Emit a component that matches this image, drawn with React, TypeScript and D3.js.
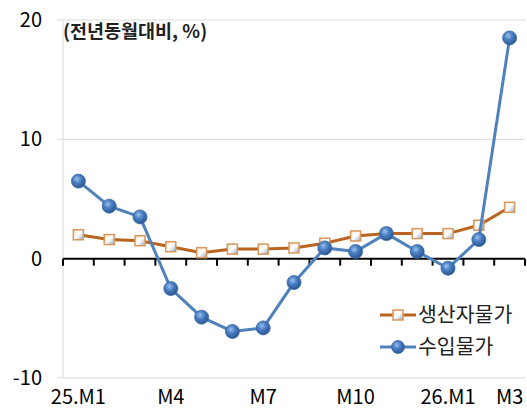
import React, { useEffect, useRef } from 'react';
import * as d3 from 'd3';

// months on the category axis, only some get a label
const months = ['25.M1', '25.M2', '25.M3', '25.M4', '25.M5', '25.M6', '25.M7', '25.M8', '25.M9', '25.M10', '25.M11', '25.M12', '26.M1', '26.M2', '26.M3'];
const tickLabels = ['25.M1', '', '', 'M4', '', '', 'M7', '', '', 'M10', '', '', '26.M1', '', 'M3'];

// year-on-year change, %
const producerPrices = [2.0, 1.6, 1.5, 1.0, 0.5, 0.8, 0.8, 0.9, 1.3, 1.9, 2.1, 2.1, 2.1, 2.8, 4.3];
const importPrices = [6.5, 4.4, 3.5, -2.5, -4.9, -6.1, -5.8, -2.0, 0.9, 0.6, 2.1, 0.6, -0.8, 1.6, 18.5];

const yTicks = [-10, 0, 10, 20];
const seriesNames = ['생산자물가', '수입물가'];

const FONT = '"Noto Sans CJK KR", "Noto Sans", sans-serif';
const ORANGE = '#b9641f';
const BLUE = '#4f81bd';

export default function App() {
  const ref = useRef<SVGSVGElement>(null);

  useEffect(() => {
    document.body.style.margin = '0';
    drawChart();
  }, []);

  function drawChart() {
    const svg = d3.select(ref.current);
    svg.selectAll('*').remove();

    const left = 63, right = 525, top = 20, bottom = 378;

    const x = d3.scaleBand().domain(months).range([left, right]);
    const cx = (d: string) => (x(d) as number) + x.bandwidth() / 2;
    const y = d3.scaleLinear().domain([-10, 20]).range([bottom, top]);

    // gradients for the markers (excel-ish 3d look)
    const defs = svg.append('defs');
    const rg = defs.append('radialGradient').attr('id', 'ball').attr('cx', '40%').attr('cy', '35%').attr('r', '65%');
    rg.append('stop').attr('offset', '0%').attr('stop-color', '#9cc0ec');
    rg.append('stop').attr('offset', '45%').attr('stop-color', '#4a7fc4');
    rg.append('stop').attr('offset', '100%').attr('stop-color', '#2a5690');
    const lg = defs.append('linearGradient').attr('id', 'sq').attr('x1', '0').attr('y1', '0').attr('x2', '1').attr('y2', '1');
    lg.append('stop').attr('offset', '0%').attr('stop-color', '#fbe6cf');
    lg.append('stop').attr('offset', '50%').attr('stop-color', '#ffffff');
    lg.append('stop').attr('offset', '100%').attr('stop-color', '#8fa7c4');

    // gridlines
    svg.append('g')
      .selectAll('line')
      .data(yTicks.filter(t => t !== 0))
      .enter()
      .append('line')
      .attr('x1', left - 6)
      .attr('x2', right)
      .attr('y1', d => y(d))
      .attr('y2', d => y(d))
      .attr('stroke', '#d9d9d9')
      .attr('stroke-width', 1);

    // left axis line
    svg.append('line')
      .attr('x1', left).attr('x2', left)
      .attr('y1', y(20)).attr('y2', y(-10))
      .attr('stroke', '#d9d9d9');

    // y labels
    svg.append('g')
      .selectAll('text')
      .data(yTicks)
      .enter()
      .append('text')
      .attr('x', 42)
      .attr('y', d => y(d))
      .attr('dy', '0.35em')
      .attr('text-anchor', 'end')
      .attr('font-family', FONT)
      .style('font-size', '20px')
      .attr('fill', '#000')
      .text(d => d);

    // zero axis with ticks at category boundaries
    svg.append('line')
      .attr('x1', left).attr('x2', right)
      .attr('y1', y(0)).attr('y2', y(0))
      .attr('stroke', '#000')
      .attr('stroke-width', 2);
    const bounds = months.map(m => x(m) as number).concat([right]);
    svg.append('g')
      .selectAll('line')
      .data(bounds)
      .enter()
      .append('line')
      .attr('x1', d => d).attr('x2', d => d)
      .attr('y1', y(0)).attr('y2', y(0) + 7)
      .attr('stroke', '#000')
      .attr('stroke-width', 2);

    // x labels
    svg.append('g')
      .selectAll('text')
      .data(months)
      .enter()
      .append('text')
      .attr('x', d => cx(d))
      .attr('y', 404)
      .attr('text-anchor', 'middle')
      .attr('font-family', FONT)
      .style('font-size', '20px')
      .text((d, i) => tickLabels[i]);

    // title
    svg.append('text')
      .attr('x', 63)
      .attr('y', 38)
      .attr('font-family', FONT)
      .attr('font-weight', 'bold')
      .style('font-size', '18.5px')
      .attr('fill', '#222')
      .text('(전년동월대비, %)');

    const line = d3.line<number>()
      .x((d, i) => cx(months[i]))
      .y(d => y(d));

    // producer prices (orange, squares)
    svg.append('path')
      .datum(producerPrices)
      .attr('d', line)
      .attr('fill', 'none')
      .attr('stroke', ORANGE)
      .attr('stroke-width', 3);
    svg.append('g')
      .selectAll('rect')
      .data(producerPrices)
      .enter()
      .append('rect')
      .attr('x', (d, i) => cx(months[i]) - 5)
      .attr('y', d => y(d) - 5)
      .attr('width', 10)
      .attr('height', 10)
      .attr('fill', 'url(#sq)')
      .attr('stroke', '#d8975c')
      .attr('stroke-width', 1.5);

    // import prices (blue, balls)
    svg.append('path')
      .datum(importPrices)
      .attr('d', line)
      .attr('fill', 'none')
      .attr('stroke', BLUE)
      .attr('stroke-width', 3);
    svg.append('g')
      .selectAll('circle')
      .data(importPrices)
      .enter()
      .append('circle')
      .attr('cx', (d, i) => cx(months[i]))
      .attr('cy', d => y(d))
      .attr('r', 7)
      .attr('fill', 'url(#ball)')
      .attr('stroke', '#3a6aa5')
      .attr('stroke-width', 0.8);

    // legend
    const lgd = svg.append('g');
    const rows = [315, 347];
    seriesNames.forEach((name, i) => {
      const ly = rows[i];
      lgd.append('line')
        .attr('x1', 380).attr('x2', 416)
        .attr('y1', ly).attr('y2', ly)
        .attr('stroke', i === 0 ? ORANGE : BLUE)
        .attr('stroke-width', 3);
      if (i === 0) {
        lgd.append('rect')
          .attr('x', 393).attr('y', ly - 5)
          .attr('width', 10).attr('height', 10)
          .attr('fill', 'url(#sq)')
          .attr('stroke', '#d8975c')
          .attr('stroke-width', 1.5);
      } else {
        lgd.append('circle')
          .attr('cx', 398).attr('cy', ly)
          .attr('r', 6.5)
          .attr('fill', 'url(#ball)')
          .attr('stroke', '#3a6aa5')
          .attr('stroke-width', 0.8);
      }
      lgd.append('text')
        .attr('x', 418)
        .attr('y', ly)
        .attr('dy', '0.35em')
        .attr('font-family', FONT)
        .style('font-size', '20.5px')
        .attr('fill', '#222')
        .text(name);
    });
  }

  return <svg ref={ref} width={527} height={411} style={{ display: 'block', background: '#fff' }} />;
}
